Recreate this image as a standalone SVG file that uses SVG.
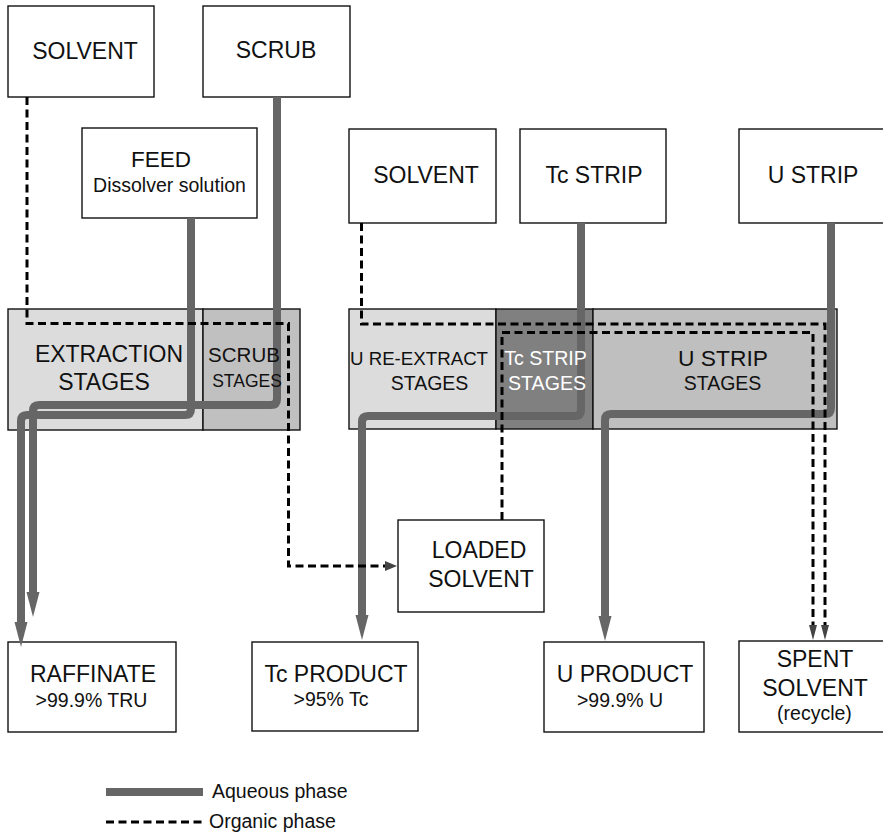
<svg xmlns="http://www.w3.org/2000/svg" width="883" height="834" viewBox="0 0 883 834">
  <style>
    text { font-family: "Liberation Sans", Arial, sans-serif; fill: #111; text-anchor: middle; }
    .box { fill: #fff; stroke: #111; stroke-width: 1.4; }
    .stage { stroke: #111; stroke-width: 1.4; }
    .aq { fill: none; stroke: #666; stroke-width: 8; }
    .org { fill: none; stroke: #000; stroke-width: 3; stroke-dasharray: 8 4.5; }
    .aqhead { fill: #666; }
    .orghead { fill: #444; }
    .t23 { font-size: 23px; }
    .t19 { font-size: 19.5px; }
  </style>

  <!-- stage banks -->
  <g id="bank-extraction">
    <rect class="stage" x="8" y="309" width="195" height="121" fill="#dcdcdc"/>
    <rect class="stage" x="203" y="309" width="97" height="121" fill="#c0c0c0"/>
  </g>
  <g id="bank-strip">
    <rect class="stage" x="349" y="309" width="147" height="120" fill="#dcdcdc"/>
    <rect class="stage" x="496" y="309" width="97" height="120" fill="#808080"/>
    <rect class="stage" x="593" y="309" width="244" height="120" fill="#bfbfbf"/>
  </g>

  <!-- feed and product boxes -->
  <g id="solvent-1"><rect class="box" x="8" y="6" width="146" height="91"/><text class="t23" x="85" y="59">SOLVENT</text></g>
  <g id="scrub"><rect class="box" x="203" y="6" width="147" height="91"/><text class="t23" x="276" y="58">SCRUB</text></g>
  <g id="feed"><rect class="box" x="82" y="128" width="175" height="90"/><text x="161" y="167" style="font-size:22.5px">FEED</text><text class="t19" x="169.5" y="192">Dissolver solution</text></g>
  <g id="solvent-2"><rect class="box" x="349" y="129" width="147" height="94"/><text class="t23" x="426" y="183">SOLVENT</text></g>
  <g id="tc-strip"><rect class="box" x="520" y="129" width="146" height="94"/><text class="t23" x="594" y="183">Tc STRIP</text></g>
  <g id="u-strip"><rect class="box" x="739" y="129" width="150" height="94"/><text class="t23" x="813" y="183">U STRIP</text></g>

  <g id="loaded-solvent"><rect class="box" x="398" y="520" width="146" height="92"/><text class="t23" x="479" y="558">LOADED</text><text class="t23" x="481" y="587">SOLVENT</text></g>

  <g id="raffinate"><rect class="box" x="8" y="642" width="168" height="90"/><text class="t23" x="93" y="682">RAFFINATE</text><text class="t19" x="91.5" y="707">&gt;99.9% TRU</text></g>
  <g id="tc-product"><rect class="box" x="252" y="642" width="166" height="89"/><text class="t23" x="336" y="682">Tc PRODUCT</text><text class="t19" x="331" y="706">&gt;95% Tc</text></g>
  <g id="u-product"><rect class="box" x="544" y="642" width="160" height="90"/><text class="t23" x="625" y="682">U PRODUCT</text><text class="t19" x="620" y="707">&gt;99.9% U</text></g>
  <g id="spent-solvent"><rect class="box" x="739" y="641" width="150" height="91"/><text class="t23" x="815" y="667">SPENT</text><text class="t23" x="815" y="696">SOLVENT</text><text class="t19" x="814.5" y="720">(recycle)</text></g>

  <!-- flows -->
  <g id="connectors">
    <!-- aqueous -->
    <path class="aq" d="M191,218 V409 Q191,415 185,415 H27 Q21,415 21,421 V623"/>
    <polygon class="aqhead" points="14.5,622 27.5,622 21,647"/>
    <path class="aq" d="M277,97 V399 Q277,405 271,405 H39 Q33,405 33,411 V593"/>
    <polygon class="aqhead" points="26.5,592 39.5,592 33,617"/>
    <path class="aq" d="M581,223 V410 Q581,416 575,416 H368 Q362,416 362,422 V616"/>
    <polygon class="aqhead" points="355.5,615 368.5,615 362,640"/>
    <path class="aq" d="M831,223 V408 Q831,414 825,414 H611 Q605,414 605,420 V617"/>
    <polygon class="aqhead" points="598.5,616 611.5,616 605,641"/>

    <!-- organic -->
    <path class="org" d="M27,97 V323.5 H288.5 V566 H386"/>
    <polygon class="orghead" points="385,561 385,571 397,566"/>
    <path class="org" d="M361.5,223 V324 H825 V626"/>
    <polygon class="orghead" points="821,625 829,625 825,640"/>
    <path class="org" d="M502,520 V332.5 H813 V626"/>
    <polygon class="orghead" points="809,625 817,625 813,640"/>
  </g>

  <!-- stage labels -->
  <g id="stage-labels">
    <text class="t23" x="109" y="362">EXTRACTION</text>
    <text class="t23" x="104" y="390">STAGES</text>
    <text x="244" y="362" style="font-size:20.5px">SCRUB</text>
    <text x="247" y="387" style="font-size:17.5px">STAGES</text>
    <text x="419" y="365" style="font-size:18.7px">U RE-EXTRACT</text>
    <text x="429.5" y="390" style="font-size:19.5px">STAGES</text>
    <text x="545.5" y="365" style="font-size:19.6px;fill:#fff">Tc STRIP</text>
    <text x="547" y="390" style="font-size:19.6px;fill:#fff">STAGES</text>
    <text x="723" y="366" style="font-size:22.8px">U STRIP</text>
    <text x="722.5" y="390" style="font-size:19.5px">STAGES</text>
  </g>

  <!-- legend -->
  <g id="legend">
    <line x1="106" y1="792" x2="203" y2="792" stroke="#666" stroke-width="8"/>
    <text class="t19" x="212" y="798" style="text-anchor:start">Aqueous phase</text>
    <line class="org" x1="106" y1="822" x2="203" y2="822"/>
    <text class="t19" x="209" y="828" style="text-anchor:start">Organic phase</text>
  </g>
</svg>
